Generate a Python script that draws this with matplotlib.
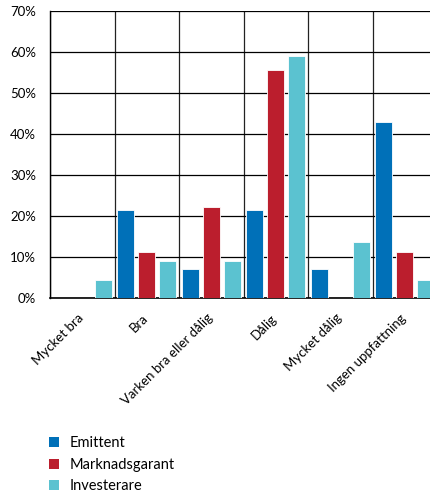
import matplotlib
matplotlib.use("Agg")
import matplotlib.pyplot as plt
import matplotlib.transforms as mtransforms
import numpy as np
from matplotlib.patches import Patch

categories = ["Mycket bra", "Bra", "Varken bra eller dålig", "Dålig", "Mycket dålig", "Ingen uppfattning"]
series_names = ["Emittent", "Marknadsgarant", "Investerare"]
emittent = [0.0, 21.4, 7.1, 21.4, 7.1, 42.9]
marknadsgarant = [0.0, 11.1, 22.2, 55.6, 0.0, 11.1]
investerare = [4.5, 9.1, 9.1, 59.1, 13.6, 4.5]
yticks = [0, 10, 20, 30, 40, 50, 60, 70]
colors = ["#0070B8", "#BB1E2D", "#5BC2D0"]

plt.rcParams['font.family'] = ['Lato', 'DejaVu Sans']

fig = plt.figure(figsize=(4.30, 4.95), dpi=100)
ax = fig.add_axes([50/430, 1-298/495, 387/430, 287/495])

x = np.arange(len(categories))
w = 0.265
step = 0.327
for i, (vals, c) in enumerate(zip([emittent, marknadsgarant, investerare], colors)):
    ax.bar(x + (i-1)*step, vals, width=w, color=c, edgecolor='white', linewidth=0.6, zorder=3)

ax.set_xlim(-0.5, len(categories)-0.5)
ax.set_ylim(0, 70)
ax.set_yticks(yticks)
ax.set_yticklabels([f"{t}%" for t in yticks], fontsize=9.5)
ax.set_xticks(x)
ax.set_xticklabels(categories, rotation=45, ha='right', rotation_mode='anchor', fontsize=9.5)
ax.set_xticks(np.arange(len(categories)+1)-0.5, minor=True)
ax.tick_params(axis='both', which='both', length=0)
ax.tick_params(axis='y', pad=10)
ax.tick_params(axis='x', pad=10)
offset = mtransforms.ScaledTranslation(-5/100, 0, fig.dpi_scale_trans)
for lbl in ax.get_xticklabels():
    lbl.set_transform(lbl.get_transform() + offset)
ax.grid(axis='y', which='major', color='black', linewidth=0.9, zorder=1)
ax.grid(axis='x', which='minor', color='#222222', linewidth=0.9, zorder=1)
for s in ['top', 'right']:
    ax.spines[s].set_visible(False)
ax.spines['left'].set_linewidth(1.0)
ax.spines['bottom'].set_linewidth(1.2)

handles = [Patch(facecolor=c, edgecolor='none') for c in colors]
fig.legend(handles, series_names, loc='upper left', bbox_to_anchor=(36/430, 1-423/495),
           frameon=False, fontsize=10.5, handlelength=0.69, handleheight=0.69,
           handletextpad=0.69, labelspacing=0.52)

fig.savefig("out.png", dpi=100)
